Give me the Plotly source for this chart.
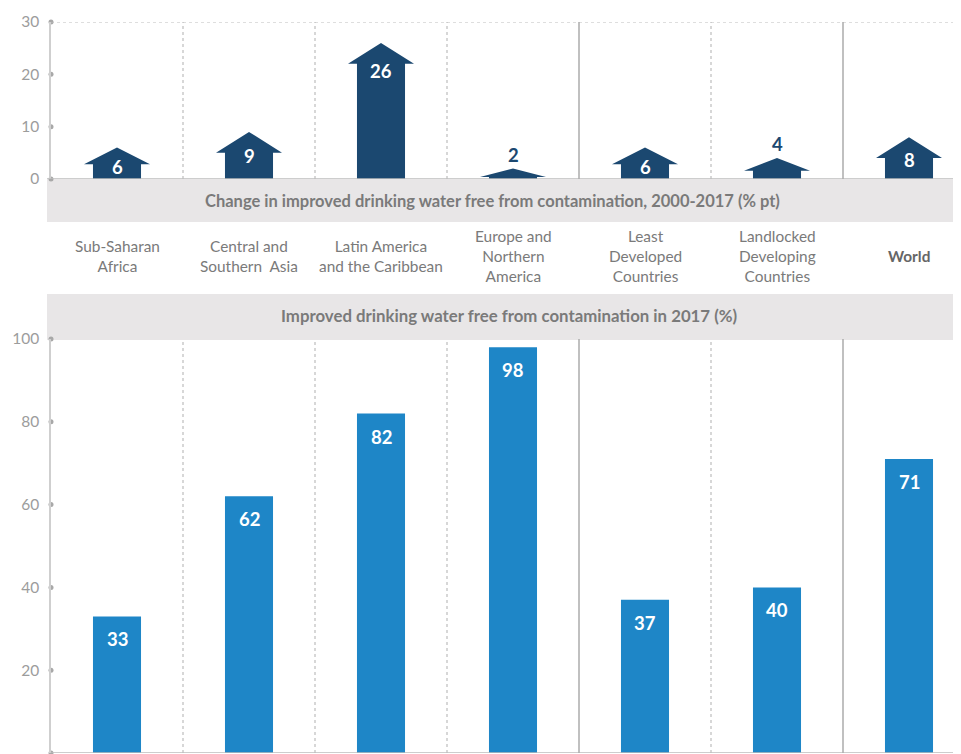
import numpy as np
import plotly.graph_objects as go

# ---------------- data ----------------
categories = ["Sub-Saharan Africa", "Central and Southern Asia",
              "Latin America and the Caribbean", "Europe and Northern America",
              "Least Developed Countries", "Landlocked Developing Countries", "World"]
category_labels = ["Sub-Saharan<br>Africa", "Central and<br>Southern  Asia",
                   "Latin America<br>and the Caribbean", "Europe and<br>Northern<br>America",
                   "Least<br>Developed<br>Countries", "Landlocked<br>Developing<br>Countries",
                   "<b>World</b>"]
change_2000_2017 = [6, 9, 26, 2, 6, 4, 8]          # % pt
level_2017 = [33, 62, 82, 98, 37, 40, 71]          # %
top_ticks = [0, 10, 20, 30]
bottom_ticks = [0, 20, 40, 60, 80, 100]
solid_dividers_after = ["Europe and Northern America", "Landlocked Developing Countries"]
title_top = "Change in improved drinking water free from contamination, 2000-2017 (% pt)"
title_bottom = "Improved drinking water free from contamination in 2017 (%)"

# ---------------- style ----------------
OFF = 8                     # page body margin
W, H = 961 - 2 * OFF, 754 - OFF
DARK = "#1B4870"
BLUE = "#1E86C7"
BAND = "#E8E6E7"
GRID = "#BDBDBD"
AXIS = "#CFCFCF"
TICKC = "#9C9C9C"
LABC = "#7A7A7A"
FONT = "Lato"

x = np.arange(len(categories))

def py(p):  # screen pixel y -> paper y
    return (H - (p - OFF)) / H

def px(p):  # screen pixel x -> paper x
    return (p - OFF) / W

AX_LEFT = 51
COL = 132.0
XR = [-0.5, -0.5 + (W + OFF - AX_LEFT) / COL]
X_DOMAIN = [px(AX_LEFT), 1]

fig = go.Figure()

# arrows (top)
SHAFT = 0.182
HEAD = 0.25
for i, v in zip(x, change_2000_2017):
    h = min(4.0, 0.8 + 0.4 * v)
    xs = [i - SHAFT, i - SHAFT, i - HEAD, i, i + HEAD, i + SHAFT, i + SHAFT, i - SHAFT]
    ys = [0, v - h, v - h, v, v - h, v - h, 0, 0]
    fig.add_trace(go.Scatter(x=xs, y=ys, fill="toself", fillcolor=DARK, mode="lines",
                             line=dict(width=0, color=DARK), hoverinfo="skip",
                             showlegend=False, xaxis="x", yaxis="y"))
    if v >= 5:
        fig.add_annotation(x=i, y=v, xref="x", yref="y", yshift=-min(28, 10 + 1.6 * v),
                           yanchor="middle", text=f"<b>{v}</b>", showarrow=False,
                           font=dict(family=FONT, size=18.5, color="white"))
    else:
        fig.add_annotation(x=i, y=v, xref="x", yref="y", yshift=14, yanchor="middle",
                           text=f"<b>{v}</b>", showarrow=False,
                           font=dict(family=FONT, size=18.5, color=DARK))

# bars (bottom)
fig.add_trace(go.Bar(x=x, y=level_2017, width=0.364, marker=dict(color=BLUE, line=dict(width=0)),
                     hoverinfo="skip", showlegend=False, xaxis="x2", yaxis="y2"))
for i, v in zip(x, level_2017):
    fig.add_annotation(x=i, y=v, xref="x2", yref="y2", yshift=-23, yanchor="middle",
                       text=f"<b>{v}</b>", showarrow=False,
                       font=dict(family=FONT, size=18.5, color="white"))

# tick dots on y axes
for ax, ticks in (("y", top_ticks), ("y2", bottom_ticks)):
    fig.add_trace(go.Scatter(x=[XR[0]] * len(ticks), y=ticks, mode="markers",
                             marker=dict(size=5, color="#A8A8A8"), cliponaxis=False,
                             hoverinfo="skip", showlegend=False,
                             xaxis="x" if ax == "y" else "x2", yaxis=ax))

shapes = []
# gray bands
shapes.append(dict(type="rect", xref="paper", yref="paper", x0=px(47), x1=1,
                   y0=py(222), y1=py(179), fillcolor=BAND, line=dict(width=0), layer="below"))
shapes.append(dict(type="rect", xref="paper", yref="paper", x0=px(47), x1=1,
                   y0=py(340), y1=py(294), fillcolor=BAND, line=dict(width=0), layer="below"))
# top dotted gridline at max
shapes.append(dict(type="line", xref="x", yref="y", x0=XR[0], x1=XR[1],
                   y0=top_ticks[-1], y1=top_ticks[-1], line=dict(color=GRID, width=1.2, dash="dot")))
# baselines
shapes.append(dict(type="line", xref="paper", yref="y", x0=px(47), x1=1, y0=0, y1=0,
                   line=dict(color="#BDBDBD", width=1.5)))
shapes.append(dict(type="line", xref="x2", yref="y2", x0=XR[0], x1=XR[1], y0=0, y1=0,
                   line=dict(color="#BDBDBD", width=1.5)))
# dividers
for k in range(len(categories) - 1):
    solid = categories[k] in solid_dividers_after
    st = dict(color="#ABABAB", width=1.5) if solid else dict(color=GRID, width=1.2, dash="dot")
    shapes.append(dict(type="line", xref="x", yref="y", x0=k + 0.5, x1=k + 0.5,
                       y0=0, y1=top_ticks[-1], line=st))
    shapes.append(dict(type="line", xref="x2", yref="y2", x0=k + 0.5, x1=k + 0.5,
                       y0=0, y1=bottom_ticks[-1], line=st))

# category labels
for i, lab in zip(x, category_labels):
    fig.add_annotation(x=i, y=py(256), xref="x", yref="paper", yanchor="middle",
                       text=lab, showarrow=False,
                       font=dict(family=FONT, size=15.4,
                                 color="#666666" if "World" in lab else LABC))

# band titles
fig.add_annotation(x=px(492), y=py(200.5), xref="paper", yref="paper", yanchor="middle",
                   text=f"<b>{title_top}</b>", showarrow=False,
                   font=dict(family=FONT, size=16.5, color=LABC))
fig.add_annotation(x=px(509), y=py(315), xref="paper", yref="paper", yanchor="middle",
                   text=f"<b>{title_bottom}</b>", showarrow=False,
                   font=dict(family=FONT, size=16.8, color=LABC))

yax = dict(showgrid=False, zeroline=False, showline=True, linecolor=AXIS, linewidth=1.5,
           ticks="", ticklabelstandoff=7, automargin=False,
           tickfont=dict(family=FONT, size=15.5, color=TICKC), fixedrange=True)
xax = dict(showgrid=False, zeroline=False, showline=False, showticklabels=False,
           automargin=False, range=XR, domain=X_DOMAIN, fixedrange=True)

fig.update_layout(
    width=W, height=H, autosize=False,
    margin=dict(l=0, r=0, t=0, b=0, pad=0),
    paper_bgcolor="white", plot_bgcolor="rgba(0,0,0,0)",
    font=dict(family=FONT),
    showlegend=False,
    xaxis=dict(**xax, anchor="y"),
    yaxis=dict(**yax, domain=[py(179), py(22)], range=[0, top_ticks[-1]],
               tickvals=top_ticks, anchor="x"),
    xaxis2=dict(**xax, anchor="y2"),
    yaxis2=dict(**yax, domain=[py(753), py(339)], range=[0, bottom_ticks[-1]],
                tickvals=bottom_ticks, anchor="x2"),
    shapes=shapes,
)

fig.write_html("out.html")
